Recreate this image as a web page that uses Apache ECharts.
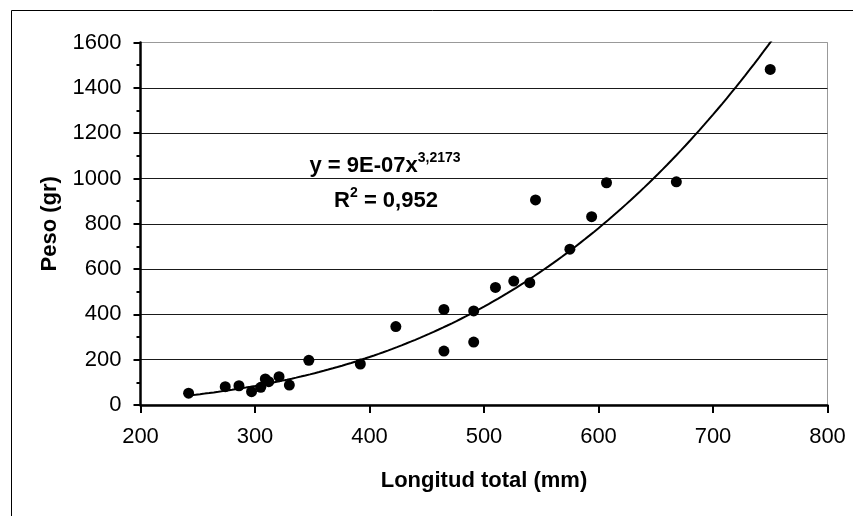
<!DOCTYPE html>
<html>
<head>
<meta charset="utf-8">
<script src="https://cdn.jsdelivr.net/npm/echarts@6/dist/echarts.min.js"></script>
<style>
  html, body { margin: 0; padding: 0; background: #fff; }
  #chart { width: 853px; height: 516px; }
</style>
</head>
<body>
<div id="chart"></div>
<script>
// Longitud total (mm) vs Peso (gr)
const longitud = [242, 274, 286, 297, 305, 309, 312, 321, 330, 347, 392, 423,
                  465, 465, 491, 491, 510, 526, 540, 545, 575, 594, 607, 668, 750];
const peso = [52, 81, 85, 59, 78, 115, 103, 125, 88, 197, 181, 346,
              422, 238, 415, 278, 519, 547, 540, 905, 688, 831, 981, 985, 1481];

// potential trendline as printed on the chart
const trendCoef = 9e-7;
const trendExp = 3.2173;
const trendFrom = 240;
const trendTo = 752;

const xTicks = { min: 200, max: 800, step: 100 };
const yTicks = { min: 0, max: 1600, step: 200 };

const points = longitud.map((x, i) => [x, peso[i]]);

let trend = [];
for (let x = trendFrom; x <= trendTo; x += 4) {
    trend.push([x, trendCoef * Math.pow(x, trendExp)]);
}

const font = '"Liberation Sans", Arial, sans-serif';

// last split line (top, 1600) is the grey plot border in the original
const splitColors = [];
for (let v = yTicks.min; v <= yTicks.max; v += yTicks.step) {
    splitColors.push(v === yTicks.max ? '#999999' : '#1a1a1a');
}

const richMain = { fontFamily: font, fontWeight: 'bold', fontSize: 22, fill: '#000', verticalAlign: 'bottom', lineHeight: 26 };
const richSup = { fontFamily: font, fontWeight: 'bold', fontSize: 14, fill: '#000', verticalAlign: 'top', lineHeight: 16 };

const chart = echarts.init(document.getElementById('chart'), null, { renderer: 'canvas' });

const option = {
    animation: false,
    backgroundColor: '#ffffff',
    grid: {
        left: 140.5,
        right: 25.5,
        top: 42.5,
        bottom: 111,
        show: true,
        borderColor: '#999999',
        borderWidth: 1,
        backgroundColor: 'transparent'
    },
    xAxis: {
        type: 'value',
        min: xTicks.min,
        max: xTicks.max,
        interval: xTicks.step,
        name: 'Longitud total (mm)',
        nameLocation: 'middle',
        nameGap: 65,
        nameTextStyle: { fontFamily: font, fontWeight: 'bold', fontSize: 22, color: '#000' },
        axisLine: { lineStyle: { color: '#000', width: 2.5 } },
        axisTick: { length: 8, lineStyle: { color: '#000', width: 2 } },
        axisLabel: { margin: 21, fontFamily: font, fontSize: 22, color: '#000' },
        splitLine: { show: false }
    },
    yAxis: {
        type: 'value',
        min: yTicks.min,
        max: yTicks.max,
        interval: yTicks.step,
        name: 'Peso (gr)',
        nameLocation: 'middle',
        nameRotate: 90,
        nameGap: 80,
        nameTextStyle: { fontFamily: font, fontWeight: 'bold', fontSize: 22, color: '#000' },
        axisLine: { show: true, lineStyle: { color: '#000', width: 2.5 } },
        axisTick: { show: true, length: 7, lineStyle: { color: '#000', width: 2 } },
        minorTick: { show: true, splitNumber: 2, length: 4, lineStyle: { color: '#000', width: 2 } },
        axisLabel: {
            margin: 19,
            fontFamily: font,
            fontSize: 22,
            color: '#000',
            formatter: function(value) {
                return String(value);
            }
        },
        splitLine: { show: true, lineStyle: { color: splitColors, width: 1 } }
    },
    series: [
        {
            type: 'line',
            data: trend,
            showSymbol: false,
            symbol: 'none',
            clip: true,
            lineStyle: { color: '#000', width: 2 },
            z: 3
        },
        {
            type: 'scatter',
            data: points,
            symbol: 'circle',
            symbolSize: 11,
            itemStyle: { color: '#000', opacity: 1 },
            z: 4
        }
    ],
    graphic: [
        {
            type: 'rect',
            left: 9,
            top: 8,
            shape: { width: 900, height: 600 },
            style: { fill: 'none', stroke: '#000', lineWidth: 1 },
            silent: true
        },
        {
            type: 'text',
            x: 385,
            y: 164,
            style: {
                text: '{m|y = 9E-07x}{s|3,2173}',
                align: 'center',
                verticalAlign: 'middle',
                rich: { m: richMain, s: richSup }
            }
        },
        {
            type: 'text',
            x: 386,
            y: 199,
            style: {
                text: '{m|R}{s|2}{m| = 0,952}',
                align: 'center',
                verticalAlign: 'middle',
                rich: { m: richMain, s: richSup }
            }
        }
    ]
};

chart.setOption(option);
</script>
</body>
</html>
